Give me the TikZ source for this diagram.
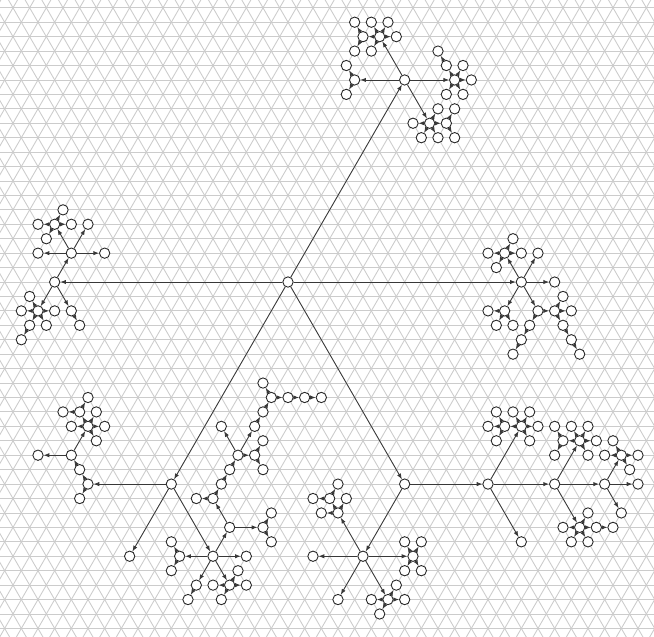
\documentclass[tikz,border=0pt]{standalone}
\usepackage{tikz}
\usetikzlibrary{arrows.meta}

\tikzset{
  vertex/.style={draw=black!85, circle, fill=white, inner sep=0pt,
                 minimum size=3.1mm, line width=0.75pt},
  link/.style={draw=black!78, line width=0.7pt,
               -{Latex[length=1.7mm,width=1.3mm]}},
  lattice/.style={draw=black!20, line width=0.75pt}
}

\begin{document}
\begin{tikzpicture}[x=0.25cm, y=0.4330cm]
    \useasboundingbox (-34.56,-24.53) rectangle (43.92,19.54);

    % triangular lattice
    \begin{scope}
        \clip (-34.56,-24.53) rectangle (43.92,19.54);
        \foreach \j in {-25,...,20}
            \draw[lattice] (-36,\j) -- (45,\j);
        \foreach \c in {-62,-60,...,72} {
            \draw[lattice] (\c-26,-26) -- (\c+21,21);
            \draw[lattice] (\c+26,-26) -- (\c-21,21);
        }
    \end{scope}

    % tree: name / x / y / parent
    \node[vertex] (o) at (0,0) {};
    \foreach \n/\x/\y/\p in {
        W/-28/0/o, E/28/0/o, NE/14/14/o, SW/-14/-14/o, SE/14/-14/o,
        % upper branch
        NEW/8/14/NE, NEWNW/7/15/NEW, NEWSW/7/13/NEW,
        NEE/20/14/NE, NEEE/22/14/NEE, NEENW/19/15/NEE, NEENWNW/18/16/NEENW,
        NEENE/21/15/NEE, NEESW/19/13/NEE, NEESE/21/13/NEE,
        NENW/11/17/NE, NENWW/9/17/NENW, NENWWNW/8/18/NENWW, NENWWSW/8/16/NENWW,
        NENWNW/10/18/NENW, NENWNE/12/18/NENW, NENWE/13/17/NENW, NENWSW/10/16/NENW,
        NESE/17/11/NE, NESEW/15/11/NESE, NESESW/16/10/NESE, NESESE/18/10/NESE,
        NESEE/19/11/NESE, NESEENE/20/12/NESEE, NESEESE/20/10/NESEE,
        NESENE/18/12/NESE,
        % left branch
        WNE/-26/2/W, WNEE/-22/2/WNE, WNEW/-30/2/WNE, WNENE/-24/4/WNE,
        WNENW/-28/4/WNE, WNENWW/-30/4/WNENW, WNENWE/-26/4/WNENW,
        WNENWNE/-27/5/WNENW, WNENWSW/-29/3/WNENW,
        WSW/-30/-2/W, WSWW/-32/-2/WSW, WSWNW/-31/-1/WSW, WSWE/-28/-2/WSW,
        WSWSE/-29/-3/WSW, WSWSW/-31/-3/WSW, WSWSWSW/-32/-4/WSWSW,
        WSE/-26/-2/W, WSESE/-25/-3/WSE,
        % right branch
        EE/32/0/E, ENE/30/2/E,
        ENW/26/2/E, ENWW/24/2/ENW, ENWE/28/2/ENW, ENWNE/27/3/ENW, ENWSW/25/1/ENW,
        ESW/26/-2/E, ESWW/24/-2/ESW, ESWSW/25/-3/ESW, ESWSE/27/-3/ESW,
        ESE/30/-2/E, ESESW/29/-3/ESE, ESESWSW/28/-4/ESESW,
        ESESWSWSW/27/-5/ESESWSW,
        ESEE/32/-2/ESE, ESEENE/33/-1/ESEE, ESEEE/34/-2/ESEE,
        ESEESE/33/-3/ESEE, ESEESESE/34/-4/ESEESE, ESEESESESE/35/-5/ESEESESE,
        % lower left branch
        SWW/-24/-14/SW, SWWSW/-25/-15/SWW, SWWNW/-25/-13/SWW,
        SWWNWNW/-26/-12/SWWNW, SWWNWNWW/-30/-12/SWWNWNW,
        SWWNWNWNE/-24/-10/SWWNWNW,
        SWWNWNWNEW/-26/-10/SWWNWNWNE, SWWNWNWNEE/-22/-10/SWWNWNWNE,
        SWWNWNWNENE/-23/-9/SWWNWNWNE, SWWNWNWNESE/-23/-11/SWWNWNWNE,
        SWWNWNWNENW/-25/-9/SWWNWNWNE,
        SWWNWNWNENWW/-27/-9/SWWNWNWNENW, SWWNWNWNENWNE/-24/-8/SWWNWNWNENW,
        SWSW/-19/-19/SW,
        SWSE/-9/-19/SW,
        SWSEW/-13/-19/SWSE, SWSEWNW/-14/-18/SWSEW, SWSEWSW/-14/-20/SWSEW,
        SWSEE/-5/-19/SWSE,
        SWSENE/-7/-17/SWSE, SWSENEE/-3/-17/SWSENE,
        SWSENEENE/-2/-16/SWSENEE, SWSENEESE/-2/-18/SWSENEE,
        SWSENENW/-9/-15/SWSENE, SWSENENWW/-11/-15/SWSENENW,
        SWSENENWNE/-8/-14/SWSENENW,
        SWSENENWNENE/-7/-13/SWSENENWNE,
        SWSENENWNENENE/-6/-12/SWSENENWNENE,
        SWSENENWNENENENW/-8/-10/SWSENENWNENENE,
        SWSENENWNENENEE/-4/-12/SWSENENWNENENE,
        SWSENENWNENENEENE/-3/-11/SWSENENWNENENEE,
        SWSENENWNENENEESE/-3/-13/SWSENENWNENENEE,
        SWSENENWNENENENE/-4/-10/SWSENENWNENENE,
        SWSENENWNENENENENE/-3/-9/SWSENENWNENENENE,
        SWSENENWNENENENENENE/-2/-8/SWSENENWNENENENENE,
        SWSENENWNENENENENENENW/-3/-7/SWSENENWNENENENENENE,
        SWSENENWNENENENENENEE/0/-8/SWSENENWNENENENENENE,
        SWSENENWNENENENENENEEE/2/-8/SWSENENWNENENENENENEE,
        SWSENENWNENENENENENEEEE/4/-8/SWSENENWNENENENENENEEE,
        SWSESW/-11/-21/SWSE, SWSESWSW/-12/-22/SWSESW,
        SWSESE/-7/-21/SWSE, SWSESEW/-9/-21/SWSESE, SWSESEE/-5/-21/SWSESE,
        SWSESENE/-6/-20/SWSESE, SWSESESW/-8/-22/SWSESE,
        % lower right branch
        SESW/9/-19/SE, SESWW/3/-19/SESW,
        SESWE/15/-19/SESW, SESWENW/14/-18/SESWE, SESWENE/16/-18/SESWE,
        SESWESW/14/-20/SESWE, SESWESE/16/-20/SESWE,
        SESWNW/6/-16/SESW, SESWNWW/4/-16/SESWNW, SESWNWNE/7/-15/SESWNW,
        SESWNWNW/5/-15/SESWNW, SESWNWNWW/3/-15/SESWNWNW,
        SESWNWNWNE/6/-14/SESWNWNW,
        SESWSW/6/-22/SESW,
        SESWSE/12/-22/SESW, SESWSEW/10/-22/SESWSE, SESWSEE/14/-22/SESWSE,
        SESWSENE/13/-21/SESWSE, SESWSESW/11/-23/SESWSE,
        SEE/24/-14/SE, SEESE/28/-18/SEE,
        SEENE/28/-10/SEE, SEENEW/26/-10/SEENE, SEENEWW/24/-10/SEENEW,
        SEENEWNW/25/-9/SEENEW, SEENEWSW/25/-11/SEENEW,
        SEENENW/27/-9/SEENE, SEENENE/29/-9/SEENE, SEENEE/30/-10/SEENE,
        SEENESE/29/-11/SEENE,
        SEEE/32/-14/SEE,
        SEEENE/35/-11/SEEE, SEEENEW/33/-11/SEEENE,
        SEEENEWNW/32/-10/SEEENEW, SEEENEWSW/32/-12/SEEENEW,
        SEEENENW/34/-10/SEEENE, SEEENENE/36/-10/SEEENE,
        SEEENEE/37/-11/SEEENE, SEEENESE/36/-12/SEEENE,
        SEEESE/35/-17/SEEE, SEEESEW/33/-17/SEEESE, SEEESEE/37/-17/SEEESE,
        SEEESEEE/39/-17/SEEESEE, SEEESENE/36/-16/SEEESE,
        SEEESESW/34/-18/SEEESE, SEEESESE/36/-18/SEEESE,
        SEEEE/38/-14/SEEE, SEEEEE/42/-14/SEEEE, SEEEESE/40/-16/SEEEE,
        SEEEENE/40/-12/SEEEE, SEEEENEW/38/-12/SEEEENE,
        SEEEENEE/42/-12/SEEEENE, SEEEENENW/39/-11/SEEEENE,
        SEEEENESE/41/-13/SEEEENE} {
        \node[vertex] (\n) at (\x,\y) {};
        \draw[link] (\p) -- (\n);
    }
\end{tikzpicture}
\end{document}
